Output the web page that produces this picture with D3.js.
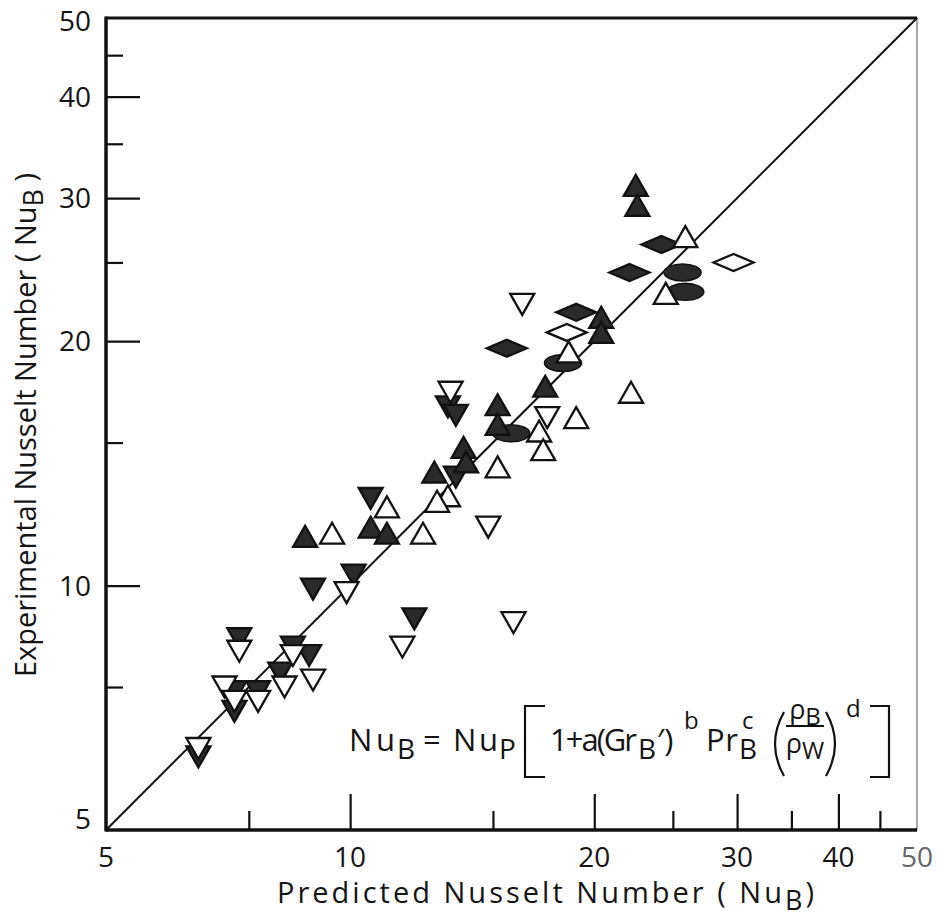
<!DOCTYPE html>
<html>
<head>
<meta charset="utf-8">
<script src="https://cdn.jsdelivr.net/npm/d3@7"></script>
<style>
body{margin:0;background:#fff;}
text{font-family:"Open Sans",sans-serif;fill:#151515;}
</style>
</head>
<body>
<svg id="chart" width="937" height="917"></svg>
<script>
// points are [predicted Nu, experimental Nu]
const filledUp = [[22.5,31.1],[22.6,29.4],[20.4,21.4],[20.4,20.5],[17.4,17.6],[15.2,16.7],[15.2,15.8],
    [13.8,14.8],[13.9,14.2],[12.7,13.8],[10.6,11.8],[11.1,11.6],[8.8,11.5]];
const openUp = [[25.9,26.9],[24.5,22.9],[18.6,19.4],[22.2,17.3],[19.0,16.1],[17.1,15.5],[17.3,14.7],
    [15.2,14.0],[13.2,12.9],[12.8,12.7],[11.1,12.5],[12.3,11.6],[9.5,11.6]];
const filledDown = [[7.3,8.6],[7.2,7.0],[7.2,7.4],[7.7,7.4],[8.2,7.8],[8.5,8.4],[8.9,8.2],[6.5,6.15],
    [9.0,9.9],[10.1,10.3],[12.0,9.1],[10.6,12.8],[13.2,16.6],[13.5,16.2],[13.5,13.6]];
const openDown = [[7.3,8.3],[7.0,7.5],[7.2,7.2],[7.7,7.2],[8.3,7.5],[8.5,8.2],[9.0,7.65],[6.5,6.3],
    [9.9,9.8],[11.6,8.4],[15.9,9.0],[14.8,11.8],[13.3,17.3],[17.5,16.1],[16.3,22.2]];
const filledDiamond = [[24.2,26.3],[22.1,24.3],[19.0,21.7],[15.6,19.6]];
const openDiamond = [[29.7,25.0],[18.5,20.5]];
const filledEllipse = [[25.7,24.3],[25.9,23.0],[18.3,18.8],[15.8,15.4]];

const labelTicks = [5,10,20,30,40,50];
const majorTicks = [10,20,30,40];
const minorTicks = [7.5,15,25,35,45];

const svg = d3.select("#chart");
let x = d3.scaleLog().domain([5,50]).range([106,917]);
let y = d3.scaleLog().domain([5,50]).range([830,18]);

// ticks (pointing inward)
svg.append("g").attr("transform","translate(0,830)")
    .call(d3.axisBottom(x).tickValues(majorTicks).tickSize(-36).tickSizeOuter(0).tickFormat(""))
    .call(g => g.select(".domain").remove());
svg.append("g").attr("transform","translate(0,830)")
    .call(d3.axisBottom(x).tickValues(minorTicks).tickSize(-19).tickSizeOuter(0).tickFormat(""))
    .call(g => g.select(".domain").remove());
svg.append("g").attr("transform","translate(106,0)")
    .call(d3.axisLeft(y).tickValues(majorTicks).tickSize(-34).tickSizeOuter(0).tickFormat(""))
    .call(g => g.select(".domain").remove());
svg.append("g").attr("transform","translate(106,0)")
    .call(d3.axisLeft(y).tickValues(minorTicks).tickSize(-17).tickSizeOuter(0).tickFormat(""))
    .call(g => g.select(".domain").remove());
svg.selectAll(".tick line").attr("stroke","#111").attr("stroke-width",2.2);

// frame
svg.append("line").attr("x1",x(5)).attr("x2",x(50)).attr("y1",y(50)).attr("y2",y(50)).attr("stroke","#111").attr("stroke-width",3);
svg.append("line").attr("x1",x(50)).attr("x2",x(50)).attr("y1",y(50)).attr("y2",y(5)).attr("stroke","#888").attr("stroke-width",1.5);
svg.append("line").attr("x1",x(5)).attr("x2",x(5)).attr("y1",y(50)-1.5).attr("y2",y(5)+1.5).attr("stroke","#111").attr("stroke-width",3.5);
svg.append("line").attr("x1",x(5)).attr("x2",x(50)).attr("y1",y(5)).attr("y2",y(5)).attr("stroke","#111").attr("stroke-width",3.5);

// tick labels
svg.selectAll(".ylab").data(labelTicks).enter().append("text")
    .attr("class","ylab").attr("x",91)
    .attr("y",d => d == 5 ? y(d)-1 : d == 50 ? y(d)+13 : y(d)+10)
    .attr("text-anchor","end").attr("font-size",28).text(d => d);
svg.selectAll(".xlab").data(labelTicks).enter().append("text")
    .attr("class","xlab").attr("x",d => x(d)).attr("y",867)
    .attr("text-anchor","middle").attr("font-size",28)
    .style("fill",d => d == 50 ? "#666" : "#151515").text(d => d);

// axis titles
const xt = svg.append("text").attr("x",277).attr("y",903).attr("font-size",29)
    .attr("textLength",537).attr("lengthAdjust","spacing");
xt.append("tspan").text("Predicted Nusselt Number ( Nu");
xt.append("tspan").attr("dy",7).attr("font-size",27).text("B");
xt.append("tspan").attr("dy",-7).text(")");
const yt = svg.append("text").attr("transform","translate(36,677) rotate(-90)").attr("font-size",29)
    .attr("textLength",504).attr("lengthAdjust","spacing");
yt.append("tspan").text("Experimental Nusselt Number ( Nu");
yt.append("tspan").attr("dy",7).attr("font-size",27).text("B");
yt.append("tspan").attr("dy",-7).text(" )");

// diagonal line of perfect agreement
svg.append("line").attr("x1",x(5)).attr("y1",y(5)).attr("x2",x(50)).attr("y2",y(50))
    .attr("stroke","#111").attr("stroke-width",2);

// markers
const tw = 24, th = 21;
const upPath = `M0,${-th/2}L${tw/2},${th/2}L${-tw/2},${th/2}Z`;
const downPath = `M0,${th/2}L${tw/2},${-th/2}L${-tw/2},${-th/2}Z`;
const diaPath = "M-20,0L0,-8.5L20,0L0,8.5Z";
const dark = "#2a2a2a";

function drawPath(data, p, fill) {
    svg.append("g").selectAll("path").data(data).enter().append("path")
        .attr("d", p)
        .attr("transform", d => "translate(" + x(d[0]) + "," + y(d[1]) + ")")
        .attr("fill", fill).attr("stroke","#111").attr("stroke-width",2.3);
}
svg.append("g").selectAll("ellipse").data(filledEllipse).enter().append("ellipse")
    .attr("cx",d => x(d[0])).attr("cy",d => y(d[1])).attr("rx",18.5).attr("ry",8.5)
    .attr("fill",dark).attr("stroke","#111").attr("stroke-width",1.5);
drawPath(filledDiamond, diaPath, dark);
drawPath(filledDown, downPath, dark);
drawPath(filledUp, upPath, dark);
drawPath(openDiamond, diaPath, "#fff");
drawPath(openDown, downPath, "#fff");
drawPath(openUp, upPath, "#fff");

// formula
const fml = svg.append("g");
const b0 = 751;
function piece(str, px, dy, size, len) {
    const t = fml.append("text").attr("x",px).attr("y",b0+dy).attr("font-size",size).text(str);
    if (len) t.attr("textLength",len).attr("lengthAdjust","spacing");
    return t;
}
function stroke(d) {
    fml.append("path").attr("d",d).attr("fill","none").attr("stroke","#111").attr("stroke-width",2.2);
}
piece("Nu",349,0,31,46);
piece("B",397,8,28);
piece("=",423,0,31);
piece("Nu",453,0,31,45);
piece("P",499,8,28);
stroke("M545,706H525V777H545");
piece("1+a(Gr",550,0,31,87);
piece("B",638,8,28);
piece("′)",657,0,31);
piece("b",684,-22,24);
piece("Pr",706,0,31,32);
piece("B",739,8,28);
piece("c",742,-22,24);
stroke("M784,712Q766,744 784,776");
fml.append("text").attr("x",805).attr("y",b0-32).attr("text-anchor","middle").attr("font-size",27)
    .call(t => { t.append("tspan").text("ρ"); t.append("tspan").attr("dy",6).attr("font-size",24).text("B"); });
fml.append("line").attr("x1",786).attr("x2",824).attr("y1",b0-25).attr("y2",b0-25).attr("stroke","#111").attr("stroke-width",2);
fml.append("text").attr("x",805).attr("y",b0+2).attr("text-anchor","middle").attr("font-size",27)
    .call(t => { t.append("tspan").text("ρ"); t.append("tspan").attr("dy",6).attr("font-size",24).text("W"); });
stroke("M826,712Q844,744 826,776");
piece("d",846,-34,24);
stroke("M870,706H889V777H870");
</script>
</body>
</html>
